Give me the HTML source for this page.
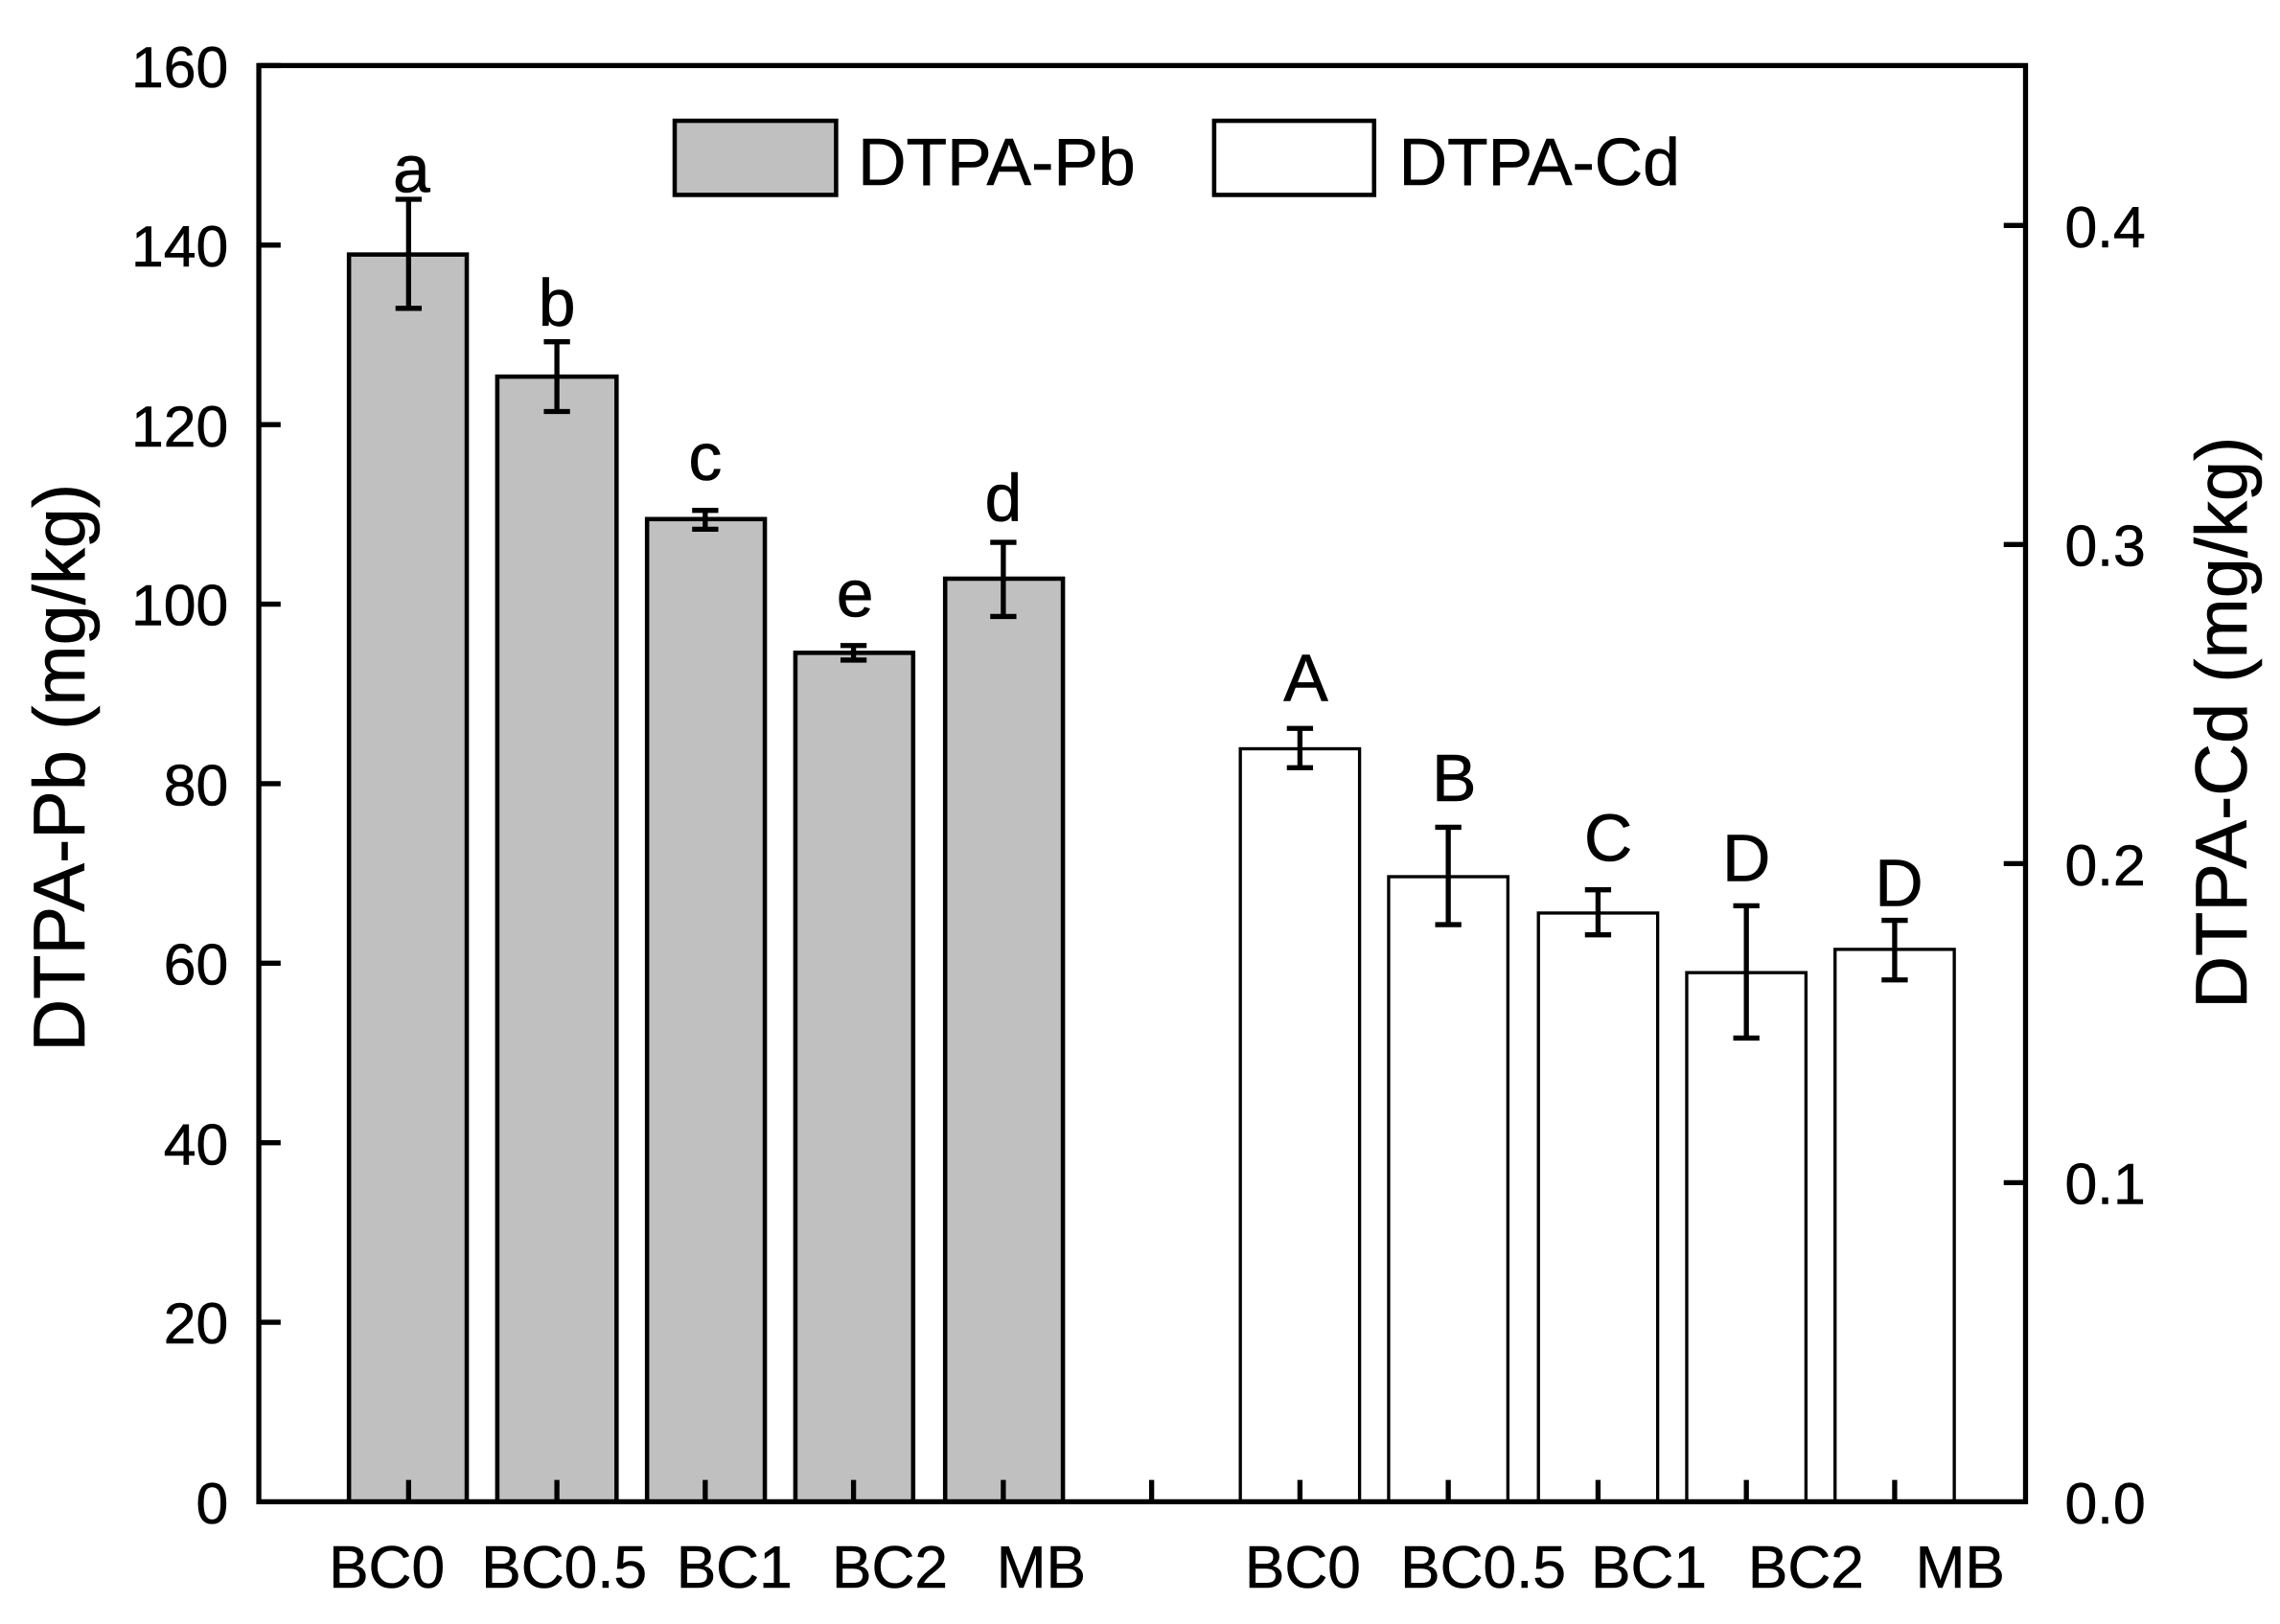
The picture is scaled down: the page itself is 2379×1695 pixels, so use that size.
<!DOCTYPE html>
<html><head><meta charset="utf-8"><style>
html,body{margin:0;padding:0;background:#fff;}
svg{display:block;}
text{font-family:"Liberation Sans",Arial,sans-serif;fill:#000;stroke:#000;stroke-width:0.4;}
</style></head><body>
<svg width="2379" height="1695" viewBox="0 0 1568 1117" xmlns="http://www.w3.org/2000/svg">
<rect width="1568" height="1117" fill="#fff"/>
<g fill="#c0c0c0" stroke="#000" stroke-width="3">
<rect x="240" y="175" width="81" height="858"/>
<rect x="342" y="259" width="82" height="774"/>
<rect x="445" y="357" width="81" height="676"/>
<rect x="547" y="449" width="81" height="584"/>
<rect x="650" y="398" width="81" height="635"/>
</g>
<g fill="#fff" stroke="#000" stroke-width="2.2">
<rect x="853" y="515" width="82" height="518"/>
<rect x="955" y="603" width="82" height="430"/>
<rect x="1058" y="628" width="82" height="405"/>
<rect x="1160" y="669" width="82" height="364"/>
<rect x="1262" y="653" width="82" height="380"/>
</g>
<g stroke="#000" stroke-width="3.5" fill="none">
<path d="M281 137V212M272 137H290M272 212H290"/>
<path d="M383 235V283M374 235H392M374 283H392"/>
<path d="M485 351V364M476 351H494M476 364H494"/>
<path d="M587 444V454M578 444H596M578 454H596"/>
<path d="M690 373V424M681 373H699M681 424H699"/>
<path d="M894 501V528M885 501H903M885 528H903"/>
<path d="M996 569V636M987 569H1005M987 636H1005"/>
<path d="M1099 612V643M1090 612H1108M1090 643H1108"/>
<path d="M1201 623V714M1192 623H1210M1192 714H1210"/>
<path d="M1303 633V674M1294 633H1312M1294 674H1312"/>
</g>
<g stroke="#000" stroke-width="3.5" fill="none">
<rect x="178" y="45" width="1215" height="988"/>
<path d="M178 45H193M178 168.5H193M178 292H193M178 415.5H193M178 539H193M178 662.5H193M178 786H193M178 909.5H193"/>
<path d="M1393 155H1378M1393 374.5H1378M1393 594H1378M1393 813.5H1378"/>
<path d="M281 1033V1018M383 1033V1018M485 1033V1018M587 1033V1018M690 1033V1018M792 1033V1018M894 1033V1018M996 1033V1018M1099 1033V1018M1201 1033V1018M1303 1033V1018"/>
</g>
<g font-size="40" text-anchor="end">
<text x="157" y="60">160</text><text x="157" y="183">140</text><text x="157" y="307">120</text>
<text x="157" y="430">100</text><text x="157" y="554">80</text><text x="157" y="677">60</text>
<text x="157" y="801">40</text><text x="157" y="924">20</text><text x="157" y="1048">0</text>
</g>
<g font-size="40">
<text x="1420" y="170">0.4</text><text x="1420" y="389">0.3</text><text x="1420" y="609">0.2</text>
<text x="1420" y="828">0.1</text><text x="1420" y="1048">0.0</text>
</g>
<g font-size="41" text-anchor="middle">
<text x="266" y="1092">BC0</text><text x="388" y="1092">BC0.5</text><text x="505" y="1092">BC1</text>
<text x="612" y="1092">BC2</text><text x="716" y="1092">MB</text>
<text x="896" y="1092">BC0</text><text x="1020" y="1092">BC0.5</text><text x="1134" y="1092">BC1</text>
<text x="1242" y="1092">BC2</text><text x="1348" y="1092">MB</text>
</g>
<g font-size="46" text-anchor="middle">
<text x="283" y="132">a</text><text x="383" y="224">b</text><text x="485" y="330">c</text>
<text x="588" y="424">e</text><text x="690" y="358">d</text>
<text x="898" y="482">A</text><text x="1000" y="551">B</text><text x="1106" y="592">C</text>
<text x="1201" y="606">D</text><text x="1306" y="623">D</text>
</g>
<rect x="464" y="83" width="111" height="51" fill="#c0c0c0" stroke="#000" stroke-width="3"/>
<text x="590" y="127" font-size="46">DTPA-Pb</text>
<rect x="835" y="83" width="110" height="51" fill="#fff" stroke="#000" stroke-width="3"/>
<text x="962" y="127" font-size="46">DTPA-Cd</text>
<text transform="translate(58,528) rotate(-90)" font-size="50" text-anchor="middle">DTPA-Pb (mg/kg)</text>
<text transform="translate(1545,497) rotate(-90)" font-size="50" text-anchor="middle">DTPA-Cd (mg/kg)</text>
</svg>
</body></html>
